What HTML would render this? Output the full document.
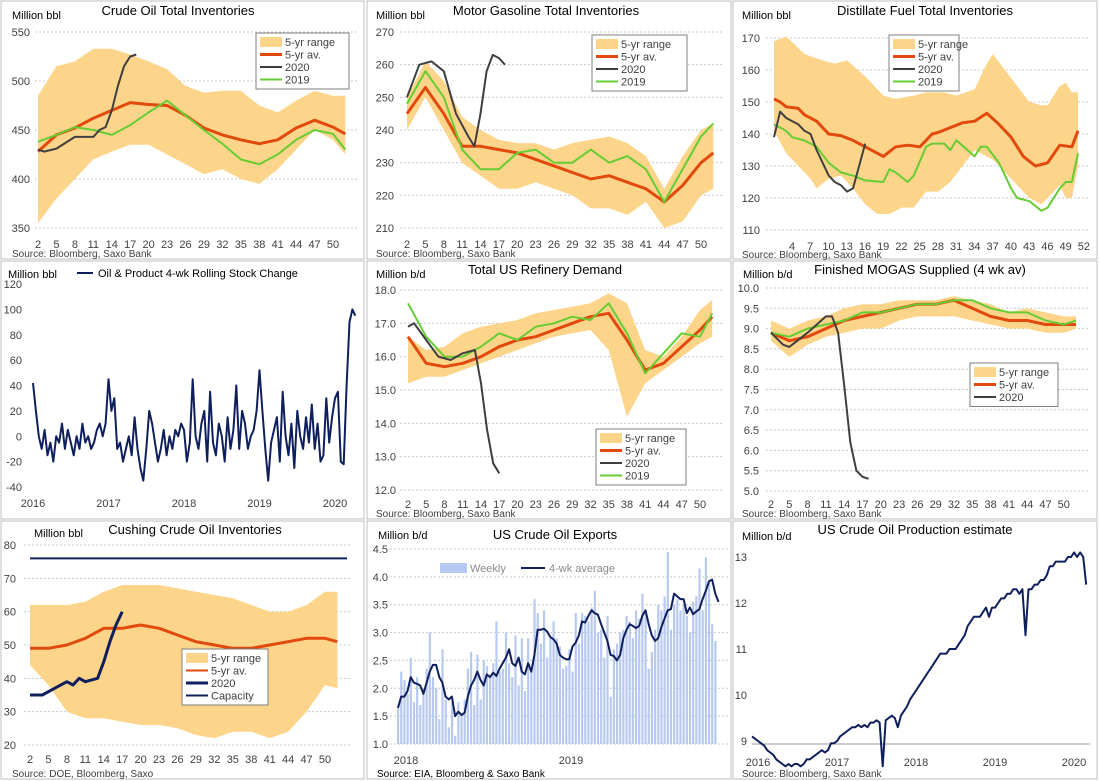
<!DOCTYPE html>
<html><head><meta charset="utf-8">
<style>
html,body{margin:0;padding:0;background:#fff;}
svg{display:block;font-family:"Liberation Sans",sans-serif;}
</style></head>
<body>
<svg id="c" width="1099" height="781" viewBox="0 0 1099 781"></svg>
<script>
// ---------- data ----------
const wk3=[2,5,8,11,14,17,20,23,26,29,32,35,38,41,44,47,50,52];
const crudeHi=[485,515,520,533,533,527,520,512,495,488,490,490,475,468,480,490,485,485];
const crudeLo=[355,380,400,420,428,435,435,425,415,405,410,400,395,410,430,450,440,425];
const crudeAvg=[428,445,452,462,470,478,476,475,465,452,445,440,436,440,452,460,453,446];
const crude2019=[438,445,453,450,445,455,468,480,465,450,436,420,415,425,440,450,446,430];
const crude20Wk=[2,3,5,8,11,12,13,14,15,16,17,18];
const crude2020=[430,428,431,443,443,450,453,470,495,515,525,527];

const gasHi=[250,261,255,244,240,237,236,236,234,236,237,238,236,232,222,232,240,242];
const gasLo=[240,250,240,230,226,222,222,224,222,220,216,216,214,218,210,212,220,222];
const gasAvg=[245,253,245,235,235,234,233,231,229,227,225,226,224,222,218,223,230,233];
const gas2019=[248,258,250,234,228,228,233,234,230,230,234,230,232,228,218,228,238,242];
const gas20Wk=[2,4,6,8,10,12,13,14,15,16,17,18];
const gas2020=[250,260,261,258,245,238,235,245,258,263,262,260];

const distHiWk=[1,3,6,9,11,13,16,19,21,24,26,29,31,34,36,37,39,41,43,45,46,48,49,50,51];
const distHi=[169,170.5,165,163,162,163,158,152,151,152,153,153,152,154,162,165,160,155,150,149,149,155,156,153,153];
const distLoWk=[1,3,5,7,8,10,12,14,16,18,20,22,24,26,28,30,32,34,37,39,41,43,45,46,48,49,50,51];
const distLo=[141,134,130,126,123,126,127,123,118,115,115,117,117,122,122,125,130,135,132,128,124,120,118,120,124,120,120,130];
const distAvgWk=[1,2,3,5,6,8,10,12,14,16,19,21,23,25,27,28,30,32,34,36,38,40,42,44,46,48,50,51];
const distAvg=[151,150,148.5,148,146,144,140,139.5,138,136,133,136,136.5,136,140,140.5,142,143.5,144,146.5,143,139,133,130,131,136.5,136,141];
const dist19Wk=[1,3,4,6,8,10,12,14,16,19,20,21,23,24,26,27,29,30,31,34,35,36,38,40,41,43,45,46,48,49,50,51];
const dist2019=[143,141,139,138,136,131,128,127,125.5,125,129,128,125,127,136,137,137,135,138,133,136,136,131,123,120,119,116,117,123,125,125,134];
const dist20Wk=[1,2,3,5,6,7,8,10,11,12,13,14,15,16];
const dist2020=[139,147,145,143,141,140,135,127,125,124,122,123,130,137];

const stockChg=[42,20,0,-10,5,-15,-5,-20,0,-5,10,-10,5,-5,-15,0,-10,10,-5,0,-10,-5,5,10,0,10,
45,20,30,-10,-5,-20,-10,0,-15,15,-10,-25,-35,-10,20,10,-5,-20,-10,5,-15,0,-10,5,0,10,
5,-20,-5,45,0,-10,10,20,-20,35,-5,-15,10,0,-20,15,-10,5,40,-10,20,10,-10,0,5,20,
52,20,-10,-35,-5,5,15,-20,35,0,-15,10,-25,20,0,-10,15,-5,25,-10,10,-20,-15,30,-5,15,
30,35,-20,-22,40,90,100,95];

const refHi=[16.6,16.2,16.3,16.7,16.9,17.0,17.1,17.3,17.4,17.5,17.6,17.9,17.6,16.2,16.0,16.6,17.4,17.7];
const refLo=[15.2,15.4,15.4,15.6,15.8,16.0,16.2,16.4,16.6,16.7,16.8,16.2,14.2,15.2,15.6,16.0,16.4,16.6];
const refAvg=[16.6,15.8,15.7,15.8,16.0,16.3,16.5,16.6,16.8,17.0,17.2,17.3,16.5,15.6,15.8,16.3,16.8,17.2];
const ref2019=[17.6,16.6,16.0,16.0,16.3,16.7,16.5,16.9,17.0,17.2,17.1,17.6,16.7,15.5,16.1,16.7,16.6,17.3];
const ref20Wk=[2,3,5,7,9,11,13,14,15,16,17];
const ref2020=[16.9,17.0,16.5,16.0,15.9,16.1,16.2,15.2,13.8,12.8,12.5];

const mogHi=[9.2,9.0,9.2,9.3,9.5,9.6,9.6,9.7,9.7,9.7,9.8,9.7,9.6,9.4,9.5,9.4,9.3,9.3];
const mogLo=[8.7,8.3,8.6,8.8,8.9,9.0,9.0,9.2,9.3,9.3,9.3,9.2,9.1,9.0,9.0,8.9,8.9,9.0];
const mogAvg=[8.9,8.7,8.8,9.0,9.2,9.3,9.4,9.5,9.6,9.6,9.7,9.5,9.3,9.2,9.2,9.1,9.1,9.1];
const mog2019=[8.9,8.8,9.0,9.1,9.2,9.4,9.4,9.5,9.6,9.6,9.7,9.7,9.5,9.4,9.4,9.2,9.1,9.2];
const mog20Wk=[2,4,5,8,11,12,13,14,15,16,17,18];
const mog2020=[8.9,8.6,8.55,8.9,9.3,9.3,8.9,7.6,6.2,5.5,5.35,5.3];

const cushHi=[62,62,62,63,66,68,68,68,67,66,65,64,62,60,60,62,66,66];
const cushLo=[44,38,30,28,28,27,26,26,25,23,22,24,24,22,24,30,38,37];
const cushAvg=[49,49,50,52,55,55,56,55,53,51,50,49,49,50,51,52,52,51];
const cush20Wk=[2,4,6,8,9,10,11,13,14,15,16,17];
const cush2020=[35,35,37,39,38,40,39,40,45,51,56,60];
const cushCap=[76];

const expWeekly=[1.7,2.3,2.15,1.9,2.55,1.75,2.2,1.7,2.0,2.35,3.0,2.2,2.0,1.45,2.7,1.8,1.3,1.75,1.15,1.75,1.5,1.8,2.35,2.65,1.7,2.6,1.8,2.5,2.4,2.2,2.45,3.2,2.3,2.35,3.0,2.45,2.2,2.95,2.05,2.9,1.95,2.9,2.3,3.6,3.35,2.8,3.4,2.55,2.9,3.2,2.9,2.75,
2.35,2.4,2.7,2.3,3.35,2.8,3.35,3.3,3.2,3.45,3.75,3.0,3.05,2.55,3.3,1.85,2.7,2.8,3.0,3.05,3.3,3.2,2.9,3.4,3.25,3.7,3.4,2.35,2.65,3.05,3.5,3.4,3.65,4.45,3.05,3.5,3.6,3.4,3.5,3.3,3.0,3.55,3.65,4.15,3.4,4.35,3.9,3.15,2.85];
const exp4wk=[1.65,1.85,1.85,1.95,2.2,2.1,2.08,2.05,1.9,2.1,2.3,2.42,2.42,2.2,2.1,1.85,1.8,1.85,1.5,1.58,1.52,1.56,1.85,2.05,2.15,2.3,2.15,2.05,2.25,2.2,2.28,2.22,2.35,2.45,2.55,2.7,2.45,2.4,2.55,2.3,2.25,2.45,2.3,2.6,3.05,3.05,3.07,3.02,2.92,2.88,2.8,2.6,
2.55,2.52,2.52,2.75,2.82,2.95,3.2,3.18,3.3,3.4,3.35,3.32,3.15,3.0,2.85,2.6,2.58,2.5,2.6,2.9,3.05,3.15,3.12,3.08,3.12,3.3,3.4,3.15,2.95,2.85,2.9,3.1,3.25,3.4,3.42,3.7,3.65,3.6,3.6,3.35,3.45,3.33,3.38,3.42,3.6,3.75,3.92,3.95,3.7,3.55];

const prod=[9.1,9.05,9.0,8.95,8.9,8.8,8.75,8.7,8.6,8.55,8.5,8.45,8.5,8.45,8.5,8.5,8.45,8.5,8.6,8.6,8.65,8.7,8.75,8.8,8.75,8.8,
8.95,8.95,9.0,9.1,9.15,9.2,9.25,9.3,9.3,9.35,9.3,9.35,9.3,9.4,9.4,9.45,9.4,8.45,9.45,9.5,9.55,9.5,9.3,9.55,9.65,9.75,
9.9,10.0,10.1,10.2,10.3,10.4,10.5,10.6,10.7,10.8,10.9,10.9,10.9,11.0,11.0,11.0,11.1,11.2,11.3,11.5,11.6,11.7,11.7,11.7,11.8,11.9,
11.7,11.9,11.9,12.0,12.1,12.1,12.2,12.2,12.3,12.3,12.2,12.3,11.3,12.3,12.3,12.4,12.4,12.5,12.5,12.6,12.8,12.8,12.9,12.9,12.9,12.9,
13.0,13.0,13.1,13.0,13.1,13.0,12.4];

const wkLabels=[2,5,8,11,14,17,20,23,26,29,32,35,38,41,44,47,50];
const wkLabelsD=[4,7,10,13,16,19,22,25,28,31,34,37,40,43,46,49,52];
const years4=[2016,2017,2018,2019,2020];
const years2=[2018,2019];

// ---------- helpers ----------
const NS='http://www.w3.org/2000/svg';
const svg=document.getElementById('c');
const ORANGE='#fdd58a',AVG='#e2490c',DARK='#3f3f3f',GREEN='#66cc33',NAVY='#0f1f5c',BAR='#b7c9f1';
function mk(tag,attrs,name,parent){
  const e=document.createElementNS(NS,tag);
  for(const k in attrs)e.setAttribute(k,attrs[k]);
  
  
  (parent||svg).appendChild(e);return e;
}
function txt(x,y,s,name,opt){
  opt=opt||{};
  const t=mk('text',{x:x,y:y,'font-size':opt.size||11,fill:opt.fill||'#404040','text-anchor':opt.anchor||'start'},name);
  t.textContent=s;return t;
}
function lineP(xs,ys,sx,sy,color,w,name){
  let d='';for(let i=0;i<ys.length;i++)d+=(i?'L':'M')+sx(xs[i]).toFixed(1)+' '+sy(ys[i]).toFixed(1);
  return mk('path',{d:d,fill:'none',stroke:color,'stroke-width':w,'stroke-linejoin':'round'},name);
}
function band(xs,hi,lo,sx,sy,name,xsLo){
  xsLo=xsLo||xs;
  let d='';for(let i=0;i<xs.length;i++)d+=(i?'L':'M')+sx(xs[i]).toFixed(1)+' '+sy(hi[i]).toFixed(1);
  for(let i=xsLo.length-1;i>=0;i--)d+='L'+sx(xsLo[i]).toFixed(1)+' '+sy(lo[i]).toFixed(1);
  return mk('path',{d:d+'Z',fill:ORANGE,stroke:'none'},name);
}
function yAxis(v0,v1,step,sy,x0,x1,lx,dec,grid){
  for(let v=v0;v<=v1+1e-9;v+=step){
    if(grid)mk('line',{x1:x0,x2:x1,y1:sy(v),y2:sy(v),stroke:'#c8c8c8','stroke-dasharray':'2,2'},'gridline');
    txt(lx,sy(v)+4,v.toFixed(dec),'y-tick-label',{anchor:'end'});
  }
}
function xLabels(arr,sx,y){for(const v of arr)txt(sx(v),y,String(v),'x-tick-label',{anchor:'middle'});}
function legend(x,y,w,items){
  const h=items.length*12.5+6;
  mk('rect',{x:x,y:y,width:w,height:h,fill:'#fff',stroke:'#7f7f7f','stroke-width':1},'legend-box');
  items.forEach((it,i)=>{
    const cy=y+9+i*12.5;
    if(it[0]==='band')mk('rect',{x:x+4,y:cy-5,width:22,height:10,fill:ORANGE},'legend-swatch');
    else mk('line',{x1:x+4,x2:x+26,y1:cy,y2:cy,stroke:it[1],'stroke-width':it[3]},'legend-swatch');
    txt(x+29,cy+4,it[2],'legend-entry',{size:11});
  });
}
function panelBox(x,y,w,h,name){mk('rect',{x:x,y:y,width:w,height:h,fill:'none',stroke:'#bfbfbf'},name);}
const stdLeg=[['band',ORANGE,'5-yr range'],['line',AVG,'5-yr av.',3],['line',DARK,'2020',2],['line',GREEN,'2019',2]];

// ---------- panels ----------
panelBox(1,1,363,258,'crude-panel');panelBox(367,1,364,258,'gasoline-panel');panelBox(733,1,364,258,'distillate-panel');
panelBox(1,261,363,258,'stock-change-panel');panelBox(367,261,364,258,'refinery-panel');panelBox(733,261,364,258,'mogas-panel');
panelBox(1,521,363,258,'cushing-panel');panelBox(367,521,364,258,'exports-panel');panelBox(733,521,364,258,'production-panel');

// 1 Crude
(function(){
  const sx=w=>38+(w-2)*6.146, sy=v=>32+(550-v)*0.98;
  yAxis(350,550,50,sy,35,357,30,0,true);
  band(wk3,crudeHi,crudeLo,sx,sy,'crude-5yr-range');
  lineP(wk3,crudeAvg,sx,sy,AVG,3,'crude-5yr-avg');
  lineP(wk3,crude2019,sx,sy,GREEN,2,'crude-2019');
  lineP(crude20Wk,crude2020,sx,sy,DARK,2,'crude-2020');
  xLabels(wkLabels,sx,248);
  txt(178,15,'Crude  Oil  Total  Inventories','chart-title',{size:13,fill:'#000',anchor:'middle'});
  txt(12,19,'Million bbl','y-axis-title',{fill:'#000'});
  txt(12,257,'Source: Bloomberg, Saxo Bank','source-note',{size:10});
  legend(256,33,93,stdLeg);
})();
// 2 Gasoline
(function(){
  const sx=w=>407+(w-2)*6.125, sy=v=>32+(270-v)*(196/60);
  yAxis(210,270,10,sy,400,722,394,0,true);
  band(wk3,gasHi,gasLo,sx,sy,'gasoline-5yr-range');
  lineP(wk3,gasAvg,sx,sy,AVG,3,'gasoline-5yr-avg');
  lineP(wk3,gas2019,sx,sy,GREEN,2,'gasoline-2019');
  lineP(gas20Wk,gas2020,sx,sy,DARK,2,'gasoline-2020');
  xLabels(wkLabels,sx,248);
  txt(546,15,'Motor Gasoline  Total Inventories','chart-title',{size:13,fill:'#000',anchor:'middle'});
  txt(376,19,'Million bbl','y-axis-title',{fill:'#000'});
  txt(376,257,'Source: Bloomberg, Saxo Bank','source-note',{size:10});
  legend(592,35,95,stdLeg);
})();
// 3 Distillate
(function(){
  const sx=w=>774+(w-1)*6.08, sy=v=>38+(170-v)*(192/60);
  yAxis(110,170,10,sy,766,1090,760,0,true);
  band(distHiWk,distHi,distLo,sx,sy,'distillate-5yr-range',distLoWk);
  lineP(distAvgWk,distAvg,sx,sy,AVG,3,'distillate-5yr-avg');
  lineP(dist19Wk,dist2019,sx,sy,GREEN,2,'distillate-2019');
  lineP(dist20Wk,dist2020,sx,sy,DARK,2,'distillate-2020');
  xLabels(wkLabelsD,w=>792+(w-4)*6.08,250);
  txt(925,15,'Distillate  Fuel Total Inventories','chart-title',{size:13,fill:'#000',anchor:'middle'});
  txt(742,19,'Million bbl','y-axis-title',{fill:'#000'});
  txt(742,258,'Source: Bloomberg, Saxo Bank','source-note',{size:10});
  legend(889,35,70,stdLeg);
})();
// 4 Stock change
(function(){
  const sx=t=>33+(t-2016)*75.5, sy=v=>284+(120-v)*(203/160);
  yAxis(-40,120,20,sy,28,358,22,0,false);
  const ts=stockChg.map((v,i)=>2016+i/26);
  lineP(ts,stockChg,sx,sy,NAVY,2,'stock-change-line');
  for(const y of years4)txt(sx(y),507,String(y),'x-tick-label',{anchor:'middle'});
  mk('line',{x1:77,x2:93,y1:273,y2:273,stroke:NAVY,'stroke-width':2},'legend-swatch');
  txt(98,277,'Oil & Product 4-wk Rolling Stock Change','legend-entry',{size:11,fill:'#000'});
  txt(8,278,'Million bbl','y-axis-title',{fill:'#000'});
})();
// 5 Refinery
(function(){
  const sx=w=>408+(w-2)*6.083, sy=v=>290+(18-v)*(200/6);
  yAxis(12,18,1,sy,400,722,396,1,true);
  band(wk3,refHi,refLo,sx,sy,'refinery-5yr-range');
  lineP(wk3,refAvg,sx,sy,AVG,3,'refinery-5yr-avg');
  lineP(wk3,ref2019,sx,sy,GREEN,2,'refinery-2019');
  lineP(ref20Wk,ref2020,sx,sy,DARK,2,'refinery-2020');
  xLabels(wkLabels,sx,508);
  txt(545,274,'Total US Refinery Demand','chart-title',{size:13,fill:'#000',anchor:'middle'});
  txt(376,278,'Million b/d','y-axis-title',{fill:'#000'});
  txt(376,517,'Source: Bloomberg, Saxo Bank','source-note',{size:10});
  legend(596,429,90,stdLeg);
})();
// 6 MOGAS
(function(){
  const sx=w=>771+(w-2)*6.1, sy=v=>288+(10-v)*(203/5);
  yAxis(5,10,0.5,sy,766,1090,759,1,true);
  band(wk3,mogHi,mogLo,sx,sy,'mogas-5yr-range');
  lineP(wk3,mogAvg,sx,sy,AVG,3,'mogas-5yr-avg');
  lineP(wk3,mog2019,sx,sy,GREEN,2,'mogas-2019');
  lineP(mog20Wk,mog2020,sx,sy,DARK,2,'mogas-2020');
  xLabels(wkLabels,sx,508);
  txt(920,274,'Finished  MOGAS  Supplied  (4 wk av)','chart-title',{size:13,fill:'#000',anchor:'middle'});
  txt(743,278,'Million b/d','y-axis-title',{fill:'#000'});
  txt(742,517,'Source: Bloomberg, Saxo Bank','source-note',{size:10});
  legend(970,363,88,stdLeg.slice(0,3));
})();
// 7 Cushing
(function(){
  const sx=w=>30+(w-2)*6.146, sy=v=>545+(80-v)*(200/60);
  yAxis(20,80,10,sy,24,350,16,0,true);
  band(wk3,cushHi,cushLo,sx,sy,'cushing-5yr-range');
  lineP(wk3,cushAvg,sx,sy,AVG,3,'cushing-5yr-avg');
  lineP(cush20Wk,cush2020,sx,sy,NAVY,3,'cushing-2020');
  mk('line',{x1:30,x2:347,y1:sy(cushCap[0]),y2:sy(cushCap[0]),stroke:NAVY,'stroke-width':2},'capacity-line');
  xLabels(wkLabels,sx,763);
  txt(195,534,'Cushing  Crude  Oil  Inventories','chart-title',{size:13,fill:'#000',anchor:'middle'});
  txt(34,537,'Million bbl','y-axis-title',{fill:'#000'});
  txt(12,777,'Source: DOE, Bloomberg, Saxo','source-note',{size:10});
  legend(182,649,86,[['band',ORANGE,'5-yr range'],['line',AVG,'5-yr av.',2],['line',NAVY,'2020',3],['line',NAVY,'Capacity',2]]);
})();
// 8 Exports
(function(){
  const step=165/52;
  const sx=i=>398+i*step, sy=v=>549+(4.5-v)*(195/3.5);
  yAxis(1,4.5,0.5,sy,390,728,388,1,true);
  expWeekly.forEach((v,i)=>{
    mk('rect',{x:sx(i)-1,y:sy(v),width:step-1,height:sy(1)-sy(v),fill:BAR},'export-bar');
  });
  const idx=exp4wk.map((v,i)=>i);
  lineP(idx,exp4wk,sx,sy,NAVY,2,'exports-4wk-avg');
  for(const y of years2)txt(398+(y-2018)*165+8,764,String(y),'x-tick-label',{anchor:'middle'});
  txt(555,539,'US Crude  Oil Exports','chart-title',{size:13,fill:'#000',anchor:'middle'});
  txt(378,539,'Million  b/d','y-axis-title',{fill:'#000'});
  txt(377,777,'Source: EIA, Bloomberg & Saxo Bank','source-note',{size:10,fill:'#000'});
  mk('rect',{x:440,y:563,width:27,height:10,fill:BAR},'legend-swatch');
  txt(470,572,'Weekly','legend-entry',{size:11,fill:'#8a8a8a'});
  mk('line',{x1:521,x2:545,y1:568,y2:568,stroke:NAVY,'stroke-width':2},'legend-swatch');
  txt(549,572,'4-wk average','legend-entry',{size:11,fill:'#8a8a8a'});
})();
// 9 Production
(function(){
  const sx=t=>752+(t-2016)*79, sy=v=>557+(13-v)*46;
  yAxis(9,13,1,sy,752,1090,747,0,false);
  mk('line',{x1:752,x2:1090,y1:744,y2:744,stroke:'#999'},'x-axis-line');
  const ts=prod.map((v,i)=>2016+i/26);
  lineP(ts,prod,sx,sy,NAVY,2,'production-line');
  for(const y of years4)txt(sx(y)+6,766,String(y),'x-tick-label',{anchor:'middle'});
  txt(915,534,'US Crude  Oil Production estimate','chart-title',{size:13,fill:'#000',anchor:'middle'});
  txt(742,540,'Million b/d','y-axis-title',{fill:'#000'});
  txt(742,777,'Source: Bloomberg, Saxo Bank','source-note',{size:10});
})();
</script>
</body></html>
